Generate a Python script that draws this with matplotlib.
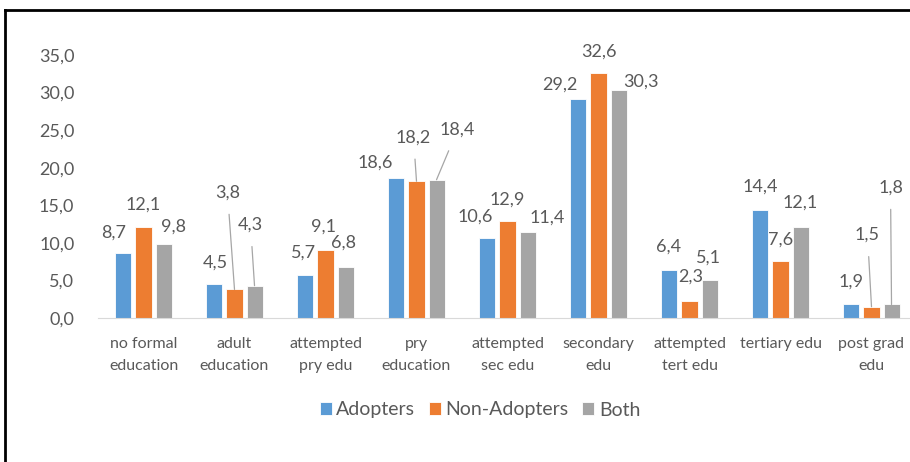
import matplotlib.pyplot as plt
import numpy as np
from matplotlib.lines import Line2D

plt.rcParams['font.family'] = ['Lato', 'DejaVu Sans']

categories = ['no formal\neducation', 'adult\neducation', 'attempted\npry edu', 'pry\neducation',
              'attempted\nsec edu', 'secondary\nedu', 'attempted\ntert edu', 'tertiary edu',
              'post grad\nedu']
adopters = [8.7, 4.5, 5.7, 18.6, 10.6, 29.2, 6.4, 14.4, 1.9]
non_adopters = [12.1, 3.8, 9.1, 18.2, 12.9, 32.6, 2.3, 7.6, 1.5]
both = [9.8, 4.3, 6.8, 18.4, 11.4, 30.3, 5.1, 12.1, 1.8]

# label offsets (pixels from bar top), per series
off_adopters = [(-10, 20), (1, 22), (-2, 23), (-21, 16), (-12, 22), (-19, 14), (-1, 23), (0, 23), (0, 22)]
off_non = [(0, 22), (-7, 97), (-2, 23), (-3, 44), (0, 21), (0, 21), (1, 24), (0, 21), (-4, 72)]
off_both = [(10, 18), (-4, 61), (-2, 24), (21, 50), (20, 15), (22, 9), (-1, 22), (0, 24), (-1, 117)]
leader_non = [False, True, False, True, False, False, False, False, True]
leader_both = [False, True, False, True, False, False, False, False, True]

colors = ['#5B9BD5', '#ED7D31', '#A5A5A5']
txt = '#595959'

fig = plt.figure(figsize=(9.1, 4.62), dpi=100)
ax = fig.add_axes([98 / 910, 1 - 318 / 462, 819 / 910, 263 / 462])

x = np.arange(len(categories))
step = 0.22
w = 0.176
series = [(adopters, 'Adopters', off_adopters, [False] * 9),
          (non_adopters, 'Non-Adopters', off_non, leader_non),
          (both, 'Both', off_both, leader_both)]

for i, (vals, name, offs, leads) in enumerate(series):
    xs = x + (i - 1) * step
    ax.bar(xs, vals, w, color=colors[i], label=name, edgecolor='white', linewidth=0.6)
    for xi, v, (dx, dy), lead in zip(xs, vals, offs, leads):
        s = f'{v:.1f}'.replace('.', ',')
        if lead:
            ax.annotate(s, (xi, v), xytext=(dx, dy), textcoords='offset pixels',
                        ha='center', va='center', fontsize=13, color=txt,
                        arrowprops=dict(arrowstyle='-', color='#A6A6A6', lw=0.9,
                                        shrinkA=8, shrinkB=0))
        else:
            ax.annotate(s, (xi, v), xytext=(dx, dy), textcoords='offset pixels',
                        ha='center', va='center', fontsize=13, color=txt)

ax.set_xlim(-0.5, 8.5)
ax.set_ylim(0, 35)
ax.set_yticks(np.arange(0, 36, 5))
ax.set_yticklabels([f'{t:.1f}'.replace('.', ',') for t in np.arange(0, 36, 5)],
                   fontsize=13, color=txt)
ax.set_xticks(x)
ax.set_xticklabels(categories, fontsize=11.5, color=txt, linespacing=1.65)
ax.tick_params(axis='both', length=0)
ax.tick_params(axis='y', pad=17)
ax.tick_params(axis='x', pad=14)
for s in ['top', 'right', 'left']:
    ax.spines[s].set_visible(False)
ax.spines['bottom'].set_color('#D9D9D9')

leg = fig.legend(loc='center', bbox_to_anchor=(480 / 910, 1 - 410 / 462), ncol=3,
                 frameon=False, fontsize=14, handlelength=0.6, handleheight=0.6,
                 handletextpad=0.25, columnspacing=0.7)
for t in leg.get_texts():
    t.set_color(txt)

# outer frame
fig.add_artist(Line2D([5 / 910, 5 / 910], [0, 1 - 10 / 462], color='black', lw=2,
                      transform=fig.transFigure))
fig.add_artist(Line2D([5 / 910, 1], [1 - 10 / 462, 1 - 10 / 462], color='black', lw=2,
                      transform=fig.transFigure))

fig.savefig('out.png', dpi=100)
